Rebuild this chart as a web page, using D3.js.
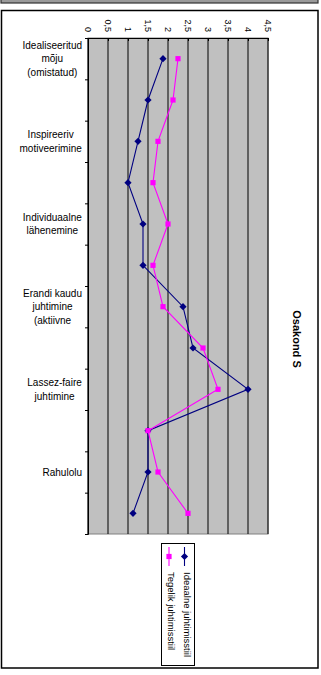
<!DOCTYPE html>
<html>
<head>
<meta charset="utf-8">
<script src="https://cdn.jsdelivr.net/npm/d3@7"></script>
<style>
  body { margin: 0; background: #fff; }
  text { font-family: "Liberation Sans", Arial, sans-serif; fill: #000; }
</style>
</head>
<body>
<div id="chart"></div>
<script>
// 12 categories, only every second one gets a label (like the original)
const categoryLabels = [
    ["Idealiseeritud", "mõju", "(omistatud)"], [],
    ["Inspireeriv", "motiveerimine"], [],
    ["Individuaalne", "lähenemine"], [],
    ["Erandi kaudu", "juhtimine", "(aktiivne"], [],
    ["Lassez-faire", "juhtimine"], [],
    ["Rahulolu"], []
];
const ideaalne = [1.875, 1.5, 1.25, 1.0, 1.375, 1.375, 2.375, 2.625, 4.0, 1.5, 1.5, 1.125];
const tegelik = [2.25, 2.125, 1.75, 1.625, 2.0, 1.625, 1.875, 2.875, 3.25, 1.5, 1.75, 2.5];
const valueTicks = [0, 0.5, 1, 1.5, 2, 2.5, 3, 3.5, 4, 4.5];
const seriesNames = ["Ideaalne juhtimisstiil", "Tegelik juhtimisstiil"];
const title = "Osakond S";

const W = 321, H = 675;
const svg = d3.select("#chart").append("svg")
    .attr("width", W).attr("height", H);

// frames
svg.append("rect").attr("x", 1).attr("y", -6).attr("width", 317).attr("height", 9)
    .attr("fill", "#9a9a9a").attr("stroke", "#333").attr("stroke-width", 1.2);
svg.append("rect").attr("x", 1.5).attr("y", 10.5).attr("width", 316.5).attr("height", 657.5)
    .attr("fill", "#fff").attr("stroke", "#000").attr("stroke-width", 1.5);

// scales
const x = d3.scaleLinear().domain([0, 4.5]).range([88, 268]);
const y = d3.scaleBand().domain(d3.range(categoryLabels.length)).range([38, 534]);
const yTicks = d3.scaleLinear().domain([0, categoryLabels.length]).range([38, 534]);

// plot area
svg.append("rect").attr("x", x(0)).attr("y", 38).attr("width", x(4.5) - x(0)).attr("height", 534 - 38)
    .attr("fill", "#c0c0c0").attr("stroke", "#808080").attr("stroke-width", 1);

// gridlines
svg.append("g").selectAll("line").data(valueTicks).enter().append("line")
    .attr("x1", d => x(d)).attr("x2", d => x(d))
    .attr("y1", 38).attr("y2", 534)
    .attr("stroke", "#111").attr("stroke-width", 1.1);

// value axis (top)
const xAxis = svg.append("g").attr("transform", "translate(0,38)")
    .call(d3.axisTop(x).tickValues(valueTicks).tickSizeInner(-3).tickSizeOuter(0).tickFormat(d => String(d).replace(".", ",")));
xAxis.select(".domain").attr("stroke", "#000");
xAxis.selectAll(".tick line").attr("stroke", "#000");
xAxis.selectAll(".tick text")
    .attr("y", 0).attr("dy", "0.35em")
    .attr("text-anchor", "end")
    .attr("transform", "translate(0,-6) rotate(90)")
    .style("font-size", "9px")
    .style("font-family", "'Liberation Sans', Arial, sans-serif");

// category axis (left)
const yAxis = svg.append("g").attr("transform", "translate(88,0)")
    .call(d3.axisLeft(yTicks).tickValues(d3.range(categoryLabels.length + 1)).tickSize(3).tickFormat(""));
yAxis.select(".domain").attr("stroke", "#000");
yAxis.selectAll(".tick line").attr("stroke", "#000");

// category labels
const lineH = 13.5;
categoryLabels.forEach(function (lines, i) {
    if (lines.length === 0) return;
    const g = svg.append("g");
    const t = g.append("text").attr("text-anchor", "middle").style("font-size", "10px");
    lines.forEach(function (l, j) {
        t.append("tspan").attr("x", 0).attr("y", (j - (lines.length - 1) / 2) * lineH).attr("dy", "0.35em").text(l);
    });
    const w = t.node().getBBox().width;
    g.attr("transform", "translate(" + (82 - w / 2) + "," + (y(i) + y.bandwidth() / 2) + ")");
});

// series
const series = [
    { name: seriesNames[0], values: ideaalne, color: "#000080", shape: "diamond" },
    { name: seriesNames[1], values: tegelik, color: "#ff00ff", shape: "square" }
];
const diamond = "M0,-3.6L3.6,0L0,3.6L-3.6,0Z";
const square = "M-2.6,-2.6H2.6V2.6H-2.6Z";
const line = d3.line().x(d => x(d.v)).y(d => y(d.i) + y.bandwidth() / 2);

series.forEach(function (s) {
    const pts = s.values.map((v, i) => ({ v: v, i: i }));
    svg.append("path").datum(pts).attr("d", line)
        .attr("fill", "none").attr("stroke", s.color).attr("stroke-width", 1.1);
    svg.append("g").selectAll("path").data(pts).enter().append("path")
        .attr("d", s.shape === "diamond" ? diamond : square)
        .attr("transform", d => "translate(" + x(d.v) + "," + (y(d.i) + y.bandwidth() / 2) + ")")
        .attr("fill", s.color);
});

// title
svg.append("text")
    .attr("transform", "translate(297,339) rotate(90)")
    .attr("text-anchor", "middle").attr("dy", "0.35em")
    .style("font-size", "11px").style("font-weight", "bold")
    .text(title);

// legend
svg.append("rect").attr("x", 161.5).attr("y", 543.5).attr("width", 33).attr("height", 122)
    .attr("fill", "#fff").attr("stroke", "#000").attr("stroke-width", 1);
const legendX = [184.5, 169];
series.forEach(function (s, k) {
    const lx = legendX[k];
    svg.append("line").attr("x1", lx).attr("x2", lx).attr("y1", 547).attr("y2", 566)
        .attr("stroke", s.color).attr("stroke-width", 1.1);
    svg.append("path").attr("d", s.shape === "diamond" ? diamond : square)
        .attr("transform", "translate(" + lx + ",556.5)").attr("fill", s.color);
    svg.append("text")
        .attr("transform", "translate(" + (lx + 2.5) + ",572) rotate(90)")
        .attr("dy", "0.35em")
        .style("font-size", "9.5px")
        .text(s.name);
});
</script>
</body>
</html>
